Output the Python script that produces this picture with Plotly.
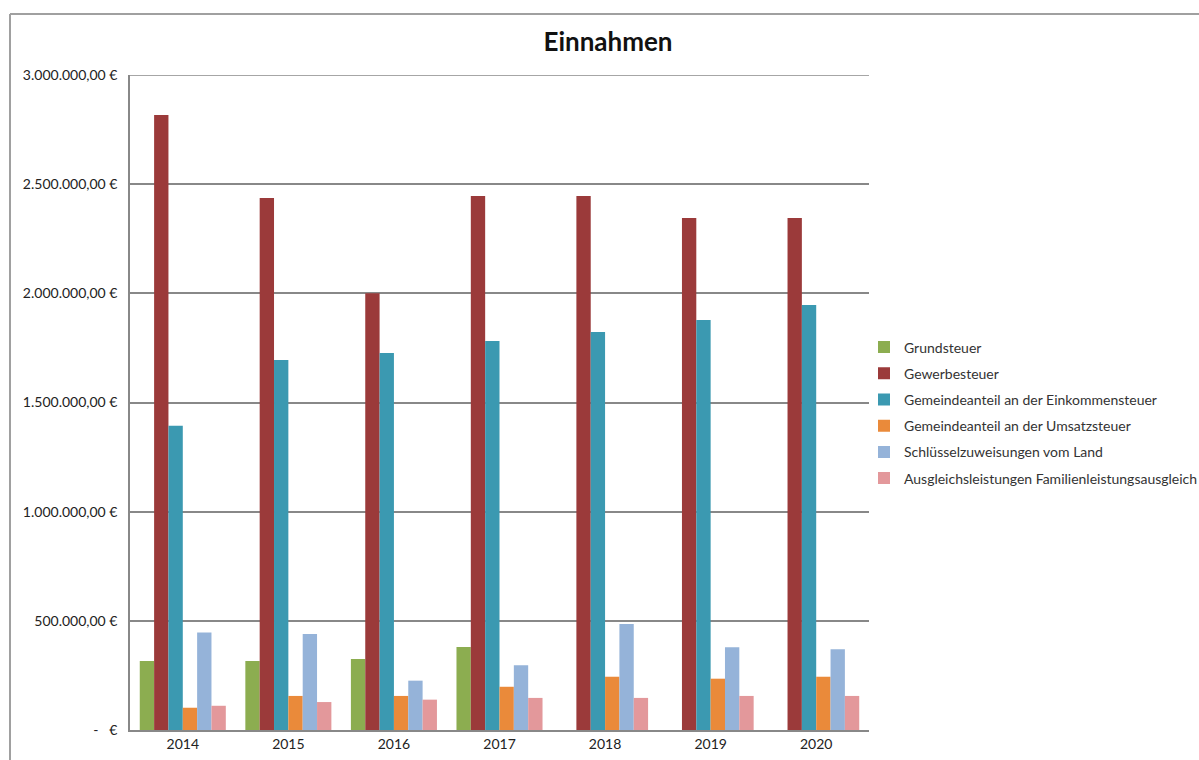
import plotly.graph_objects as go

years = ["2014", "2015", "2016", "2017", "2018", "2019", "2020"]
grundsteuer = [316000, 316000, 325000, 380000, None, None, None]
gewerbesteuer = [2817000, 2437000, 2000000, 2446000, 2446000, 2345000, 2345000]
einkommensteuer = [1393000, 1695000, 1727000, 1782000, 1823000, 1878000, 1947000]
umsatzsteuer = [102000, 156000, 156000, 198000, 244000, 235000, 244000]
schluesselzuweisungen = [447000, 440000, 226000, 296000, 486000, 379000, 370000]
ausgleichsleistungen = [111000, 128000, 139000, 147000, 147000, 156000, 156000]

series_names = [
    "Grundsteuer",
    "Gewerbesteuer",
    "Gemeindeanteil an der Einkommensteuer",
    "Gemeindeanteil an der Umsatzsteuer",
    "Schlüsselzuweisungen vom Land",
    "Ausgleichsleistungen Familienleistungsausgleich",
]
series_values = [grundsteuer, gewerbesteuer, einkommensteuer, umsatzsteuer,
                 schluesselzuweisungen, ausgleichsleistungen]
colors = ["#8CAD50", "#9B3A3A", "#3B99B1", "#EA8A3A", "#95B3D9", "#E3989B"]

y_tickvals = [0, 500000, 1000000, 1500000, 2000000, 2500000, 3000000]
y_ticktext = ["-\u00a0\u00a0\u00a0€", "500.000,00 €", "1.000.000,00 €", "1.500.000,00 €",
              "2.000.000,00 €", "2.500.000,00 €", "3.000.000,00 €"]

FONT = "Lato"

fig = go.Figure()
for i, (name, vals, col) in enumerate(zip(series_names, series_values, colors)):
    fig.add_trace(go.Bar(
        x=years, y=vals, name=name, marker=dict(color=col, line=dict(width=0)),
        legendgroup=f"g{i}",
    ))

W, H = 1199, 760
L, T = 130, 75
R = W - 869
B = H - 730
pw = W - L - R
ph = H - T - B

def px_x(px):
    return (px - L) / pw

def px_y(py):
    return (H - B - py) / ph

fig.update_layout(
    width=W, height=H,
    margin=dict(l=L, r=R, t=T, b=B, autoexpand=False),
    paper_bgcolor="white", plot_bgcolor="white",
    barmode="group", bargap=0.185, bargroupgap=0,
    font=dict(family=FONT, size=14, color="#333333"),
    title=dict(text="<b>Einnahmen</b>", x=px_x(608), xref="paper", xanchor="center",
               y=1 - 42 / H, yanchor="middle",
               font=dict(family=FONT, size=26, color="#111111")),
    legend=dict(xref="container", yref="container",
                x=864 / W, y=1 - 413 / H,
                xanchor="left", yanchor="middle",
                font=dict(family=FONT, size=14, color="#333333"),
                tracegroupgap=5, itemwidth=30, bgcolor="rgba(0,0,0,0)"),
    xaxis=dict(showline=True, linecolor="#888888", linewidth=1.5, showgrid=False,
               ticks="", tickfont=dict(family=FONT, size=14, color="#222222")),
    yaxis=dict(range=[0, 3000000], tickvals=y_tickvals, ticktext=y_ticktext,
               showgrid=True, gridcolor="#888888", gridwidth=1.5,
               showline=True, linecolor="#888888", linewidth=1.5,
               zeroline=False, ticks="", ticklabelstandoff=8,
               tickfont=dict(family=FONT, size=14, color="#222222")),
    shapes=[
        # top gridline (at the axis maximum)
        dict(type="line", xref="paper", yref="y", x0=0, x1=1,
             y0=y_tickvals[-1], y1=y_tickvals[-1], line=dict(color="#888888", width=1.5)),
        # outer chart-area border
        dict(type="line", xref="paper", yref="paper", x0=px_x(10), x1=px_x(1199),
             y0=px_y(14), y1=px_y(14), line=dict(color="#A0A0A0", width=2)),
        dict(type="line", xref="paper", yref="paper", x0=px_x(10), x1=px_x(10),
             y0=px_y(14), y1=px_y(760), line=dict(color="#A0A0A0", width=2)),
    ],
)

fig.write_html("out.html",
               config={"displayModeBar": False},
               post_script="document.body.style.margin='0';document.body.style.overflow='hidden';")
